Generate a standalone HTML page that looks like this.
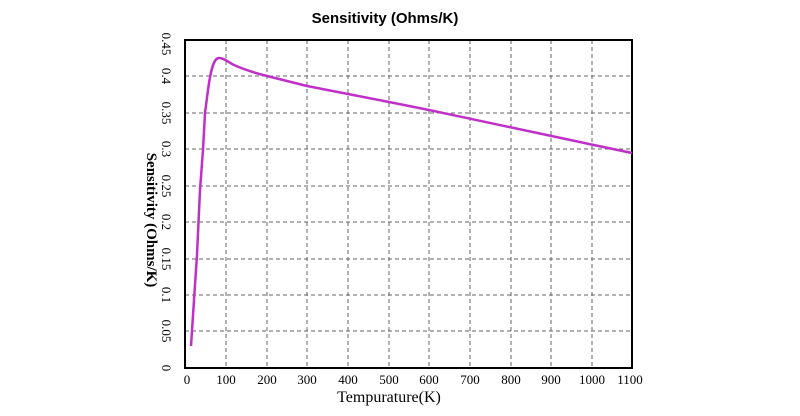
<!DOCTYPE html>
<html><head><style>body{margin:0;background:#fff}</style></head><body>
<svg width="800" height="411" xmlns="http://www.w3.org/2000/svg" font-family="Liberation Serif, serif">
<text x="385" y="23" font-family="Liberation Sans, sans-serif" font-weight="bold" font-size="15" text-anchor="middle">Sensitivity (Ohms/K)</text>
<g stroke="#666" stroke-dasharray="4,3" stroke-width="1">
<line x1="226" y1="40" x2="226" y2="368"/><line x1="267" y1="40" x2="267" y2="368"/><line x1="307" y1="40" x2="307" y2="368"/><line x1="348" y1="40" x2="348" y2="368"/><line x1="389" y1="40" x2="389" y2="368"/><line x1="429" y1="40" x2="429" y2="368"/><line x1="470" y1="40" x2="470" y2="368"/><line x1="511" y1="40" x2="511" y2="368"/><line x1="551" y1="40" x2="551" y2="368"/><line x1="592" y1="40" x2="592" y2="368"/>
<line x1="185" y1="76" x2="632" y2="76"/><line x1="185" y1="113" x2="632" y2="113"/><line x1="185" y1="149" x2="632" y2="149"/><line x1="185" y1="186" x2="632" y2="186"/><line x1="185" y1="222" x2="632" y2="222"/><line x1="185" y1="259" x2="632" y2="259"/><line x1="185" y1="295" x2="632" y2="295"/><line x1="185" y1="331" x2="632" y2="331"/>
</g>
<rect x="185" y="40" width="447" height="328" fill="none" stroke="#000" stroke-width="2"/>
<path d="M191,346 L194,300 L197,255 L200,190 L203,150 L205,113 L208,90 C211,68 214,58 219,58 C224,58 228,62 234,65 C245,70 255,73 267,76 L307,86 L348,94 L389,102 L429,110 L470,118.7 L511,127.4 L551,135.9 L592,144.6 L632,153" fill="none" stroke="#c030c8" stroke-width="2.5" stroke-linejoin="round"/>
<g font-size="13" text-anchor="middle">
<text x="187" y="384">0</text><text x="226" y="384">100</text><text x="267" y="384">200</text><text x="307" y="384">300</text><text x="348" y="384">400</text><text x="389" y="384">500</text><text x="429" y="384">600</text><text x="470" y="384">700</text><text x="511" y="384">800</text><text x="551" y="384">900</text><text x="592" y="384">1000</text><text x="630" y="384">1100</text>
</g>
<text x="389" y="402" font-size="16" text-anchor="middle">Tempurature(K)</text>
<g font-size="13" text-anchor="middle">
<text transform="translate(162,368) rotate(90)">0</text>
<text transform="translate(162,331) rotate(90)">0.05</text>
<text transform="translate(162,295) rotate(90)">0.1</text>
<text transform="translate(162,259) rotate(90)">0.15</text>
<text transform="translate(162,222) rotate(90)">0.2</text>
<text transform="translate(162,186) rotate(90)">0.25</text>
<text transform="translate(162,149) rotate(90)">0.3</text>
<text transform="translate(162,113) rotate(90)">0.35</text>
<text transform="translate(162,76) rotate(90)">0.4</text>
<text transform="translate(162,44) rotate(90)">0.45</text>
</g>
<text transform="translate(147,220) rotate(90)" font-size="15" font-weight="bold" text-anchor="middle">Sensitivity (Ohms/K)</text>
</svg>
</body></html>
